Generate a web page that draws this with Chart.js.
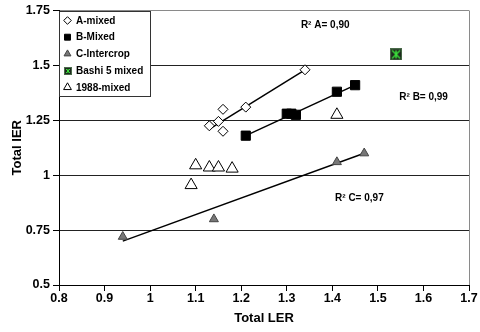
<!DOCTYPE html>
<html><head><meta charset="utf-8">
<script src="https://cdn.jsdelivr.net/npm/chart.js@4/dist/chart.umd.min.js"></script>
<style>html,body{margin:0;padding:0;background:#fff}#wrap{width:480px;height:332px;position:relative}</style>
</head><body><div id="wrap"><canvas id="c" width="480" height="332"></canvas></div>
<script>
// ---- data ----
const xTickLabels = ['0.8','0.9','1','1.1','1.2','1.3','1.4','1.5','1.6','1.7'];
const yTickLabels = ['0.5','0.75','1','1.25','1.5','1.75'];
const seriesNames = ['A-mixed','B-Mixed','C-Intercrop','Bashi 5 mixed','1988-mixed'];
const aMixedX = [1.13, 1.15, 1.16, 1.16, 1.21, 1.34];
const aMixedY = [1.225, 1.245, 1.30, 1.20, 1.31, 1.48];
const bMixedX = [1.21, 1.30, 1.31, 1.32, 1.41, 1.45];
const bMixedY = [1.18, 1.28, 1.28, 1.275, 1.38, 1.41];
const cInterX = [0.94, 1.14, 1.41, 1.47];
const cInterY = [0.72, 0.80, 1.06, 1.10];
const bashiX = [1.54];
const bashiY = [1.55];
const m1988X = [1.09, 1.10, 1.13, 1.15, 1.18, 1.41];
const m1988Y = [0.955, 1.045, 1.035, 1.035, 1.03, 1.275];
const trendAX = [1.13, 1.34], trendAY = [1.21, 1.48];
const trendBX = [1.21, 1.45], trendBY = [1.18, 1.41];
const trendCX = [0.94, 1.47], trendCY = [0.70, 1.10];
const r2Labels = ['R\u00B2 A= 0,90', 'R\u00B2 B= 0,99', 'R\u00B2 C= 0,97'];
const r2AnchorX = [1.331, 1.547, 1.406];
const r2AnchorY = [1.682, 1.357, 0.897];

// ---- helpers ----
const pts = (xs, ys) => xs.map((x, i) => ({x, y: ys[i]}));
const FONT = '"Liberation Sans", Arial, Helvetica, sans-serif';

function bashiImage(s) {
  const c = document.createElement('canvas');
  c.width = s; c.height = s;
  const g = c.getContext('2d');
  g.fillStyle = '#1e2a1e'; g.fillRect(0, 0, s, s);
  g.strokeStyle = '#4a6a4a'; g.lineWidth = 1; g.strokeRect(0.5, 0.5, s - 1, s - 1);
  g.strokeStyle = '#3be03b'; g.lineWidth = s > 9 ? 1.4 : 1;
  g.beginPath();
  g.moveTo(2, 2); g.lineTo(s - 2, s - 2);
  g.moveTo(s - 2, 2); g.lineTo(2, s - 2);
  g.moveTo(s / 2, 2); g.lineTo(s / 2, s - 2);
  g.stroke();
  return c;
}
const bashiBig = bashiImage(12);
const bashiSmall = bashiImage(8);

const datasets = [
  {label: seriesNames[0], data: pts(aMixedX, aMixedY), pointStyle: 'rectRot', pointRadius: 5,
   backgroundColor: '#fff', borderColor: '#000', borderWidth: 1, order: 1, legendR: 3.8},
  {label: seriesNames[1], data: pts(bMixedX, bMixedY), pointStyle: 'rect', pointRadius: 6.5,
   backgroundColor: '#000', borderColor: '#000', borderWidth: 1, order: 1, legendR: 4.2},
  {label: seriesNames[2], data: pts(cInterX, cInterY), pointStyle: 'triangle', pointRadius: 5.2,
   backgroundColor: '#777', borderColor: '#444', borderWidth: 1, order: 1, legendR: 4},
  {label: seriesNames[3], data: pts(bashiX, bashiY), pointStyle: bashiBig, pointRadius: 6,
   backgroundColor: '#2c2', borderColor: '#000', borderWidth: 1, order: 1, legendImg: bashiSmall},
  {label: seriesNames[4], data: pts(m1988X, m1988Y), pointStyle: 'triangle', pointRadius: 7,
   backgroundColor: '#fff', borderColor: '#000', borderWidth: 1, order: 1, legendR: 4.5},
  {label: 'trendA', data: pts(trendAX, trendAY), showLine: true, pointRadius: 0, borderColor: '#000', borderWidth: 1.5, order: 5, trend: true},
  {label: 'trendB', data: pts(trendBX, trendBY), showLine: true, pointRadius: 0, borderColor: '#000', borderWidth: 1.5, order: 5, trend: true},
  {label: 'trendC', data: pts(trendCX, trendCY), showLine: true, pointRadius: 0, borderColor: '#000', borderWidth: 1.5, order: 5, trend: true}
];

const framePlugin = {
  id: 'frame',
  afterDatasetsDraw(chart) {
    const {ctx, chartArea: a, scales} = chart;
    ctx.save();
    // right border
    ctx.strokeStyle = '#8a8a8a'; ctx.lineWidth = 1;
    ctx.beginPath(); ctx.moveTo(Math.round(a.right) + 0.5, a.top); ctx.lineTo(Math.round(a.right) + 0.5, a.bottom); ctx.stroke();
    // R2 annotations
    ctx.fillStyle = '#000';
    ctx.font = 'bold 10px ' + FONT;
    ctx.textBaseline = 'middle'; ctx.textAlign = 'left';
    r2Labels.forEach((t, i) => {
      ctx.fillText(t, scales.x.getPixelForValue(r2AnchorX[i]), scales.y.getPixelForValue(r2AnchorY[i]));
    });
    // legend box
    const lx = Math.round(a.left) + 0.5, ly = Math.round(a.top) + 0.5, lw = 91, lh = 85;
    ctx.fillStyle = '#fff';
    ctx.fillRect(lx, ly, lw, lh);
    ctx.strokeStyle = '#333';
    ctx.strokeRect(lx, ly, lw, lh);
    const items = chart.data.datasets.filter(d => !d.trend);
    items.forEach((d, i) => {
      const cy = a.top + 10 + i * 16.7;
      const cx = a.left + 8.5;
      ctx.fillStyle = d.backgroundColor; ctx.strokeStyle = d.borderColor; ctx.lineWidth = 1;
      if (d.legendImg) {
        ctx.drawImage(d.legendImg, Math.round(cx - d.legendImg.width / 2), Math.round(cy - d.legendImg.height / 2));
      } else {
        Chart.helpers.drawPoint(ctx, {pointStyle: d.pointStyle, radius: d.legendR, rotation: 0, borderWidth: 1}, cx, cy);
      }
      ctx.fillStyle = '#000';
      ctx.font = 'bold 10px ' + FONT;
      ctx.textBaseline = 'middle';
      ctx.fillText(d.label, a.left + 17, cy + 0.5);
    });
    ctx.restore();
  }
};

new Chart(document.getElementById('c'), {
  type: 'scatter',
  data: {datasets},
  plugins: [framePlugin],
  options: {
    responsive: false,
    animation: false,
    devicePixelRatio: 1,
    layout: {padding: {left: 0, right: 11, top: 8, bottom: 0}},
    plugins: {legend: {display: false}, tooltip: {enabled: false}},
    scales: {
      x: {
        type: 'linear', min: 0.8, max: 1.7,
        afterBuildTicks: s => { s.ticks = xTickLabels.map(v => ({value: parseFloat(v)})); },
        ticks: {
          autoSkip: false, maxRotation: 0, padding: 0, color: '#000',
          font: {family: FONT, weight: 'bold', size: 12.5},
          callback: (v, i) => xTickLabels[i]
        },
        grid: {drawOnChartArea: false, drawTicks: true, tickLength: 6, color: '#000', tickColor: '#000'},
        border: {color: '#000', width: 1},
        title: {display: true, text: 'Total LER', color: '#000', font: {family: FONT, weight: 'bold', size: 13}, padding: {top: 0, bottom: 6}},
        afterFit: s => { s.height = 47; }
      },
      y: {
        type: 'linear', min: 0.5, max: 1.75,
        afterBuildTicks: s => { s.ticks = yTickLabels.map(v => ({value: parseFloat(v)})); },
        ticks: {
          autoSkip: false, padding: 3, color: '#000',
          font: {family: FONT, weight: 'bold', size: 12.5},
          callback: (v, i) => yTickLabels[i]
        },
        grid: {
          drawOnChartArea: true, drawTicks: true, tickLength: 6,
          color: c => (c.tick && c.tick.value === 1.75) ? '#8a8a8a' : '#222',
          tickColor: '#000', lineWidth: 1
        },
        border: {color: '#000', width: 1},
        title: {display: true, text: 'Total IER', color: '#000', font: {family: FONT, weight: 'bold', size: 13}, padding: {top: 10, bottom: 0}},
        afterFit: s => { s.width = 59; }
      }
    }
  }
});
</script>
</body></html>
